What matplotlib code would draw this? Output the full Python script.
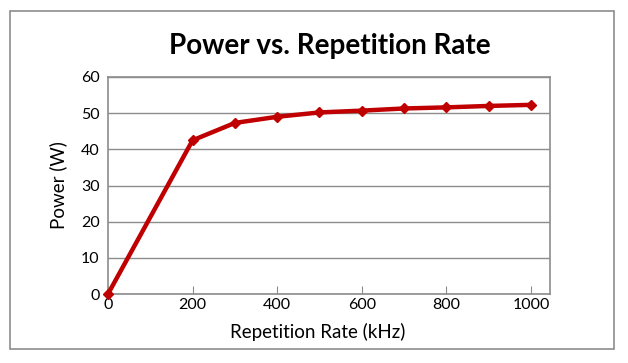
import matplotlib
matplotlib.use('Agg')
import matplotlib.pyplot as plt
from matplotlib.patches import Rectangle

rate_khz = [0, 200, 300, 400, 500, 600, 700, 800, 900, 1000]
power_w = [0, 42.5, 47.3, 49.0, 50.2, 50.7, 51.3, 51.6, 52.0, 52.3]
x_ticks = [0, 200, 400, 600, 800, 1000]
y_ticks = [0, 10, 20, 30, 40, 50, 60]

plt.rcParams['font.family'] = ['Lato', 'DejaVu Sans']

fig = plt.figure(figsize=(6.28, 3.63), dpi=100)
W, H = 628, 363
ax = fig.add_axes([108 / W, 1 - 294 / H, (550 - 108) / W, (294 - 77) / H])

# outer chart border
fig.patches.append(Rectangle((10 / W, 1 - 349 / H), (614 - 10) / W, (349 - 11) / H,
                             transform=fig.transFigure, fill=False,
                             edgecolor='#8c8c8c', linewidth=1.2))

ax.plot(rate_khz, power_w, '-D', color='#c00000', linewidth=3.2,
        markersize=5, clip_on=False, zorder=3)

ax.set_xlim(0, 1045)
ax.set_ylim(0, 60)
ax.set_xticks(x_ticks)
ax.set_yticks(y_ticks)
ax.grid(axis='y', color='#8c8c8c', linewidth=1)
ax.set_axisbelow(True)
for s in ax.spines.values():
    s.set_color('#8c8c8c')
    s.set_linewidth(1.2)
ax.tick_params(axis='x', direction='in', length=6, color='#8c8c8c', labelsize=11.5, pad=3)
ax.tick_params(axis='y', length=0, labelsize=11.5, pad=6)

ax.set_xlabel('Repetition Rate (kHz)', fontsize=13.5)
ax.xaxis.set_label_coords(0.475, -0.135)
ax.set_ylabel('Power (W)', fontsize=13.5, labelpad=10)
fig.text(330 / W, 1 - 46 / H, 'Power vs. Repetition Rate', ha='center', va='center',
         fontsize=20, fontweight='bold')

fig.savefig('out.png', dpi=100)
